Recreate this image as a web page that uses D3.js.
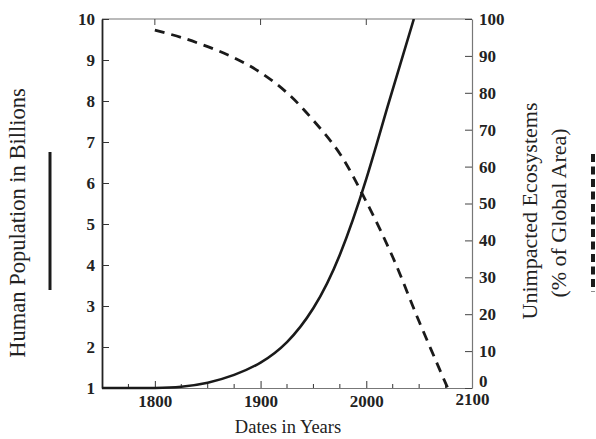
<!DOCTYPE html>
<html>
<head>
<meta charset="utf-8">
<script src="https://cdn.jsdelivr.net/npm/d3@7"></script>
<style>
  body { margin: 0; background: #fff; }
  svg { display: block; }
  .tick text { font-family: "Liberation Serif", serif; font-weight: bold; font-size: 17px; fill: #222; }
  .title { font-family: "Liberation Serif", serif; fill: #222; }
</style>
</head>
<body>
<svg id="chart"></svg>
<script>
// population (billions) by year
const popYears = [1750, 1800, 1825, 1850, 1875, 1900, 1925, 1950, 1975, 2000, 2020, 2045];
const population = [1.0, 1.0, 1.03, 1.13, 1.32, 1.62, 2.12, 2.95, 4.25, 6.1, 7.85, 10.0];

// unimpacted ecosystems (% of global area) by year
const ecoYears = [1800, 1825, 1850, 1875, 1900, 1925, 1950, 1975, 2000, 2025, 2050, 2077];
const ecosystems = [97, 95, 92.5, 89.5, 85.5, 80, 72.5, 63.5, 50.5, 35.5, 18, 0];

const xMajor = [1800, 1900, 2000, 2100];
const xMinor = [1775, 1825, 1850, 1875, 1925, 1950, 1975, 2025, 2050, 2075];
const popTicks = [1, 2, 3, 4, 5, 6, 7, 8, 9, 10];
const ecoTicks = [0, 10, 20, 30, 40, 50, 60, 70, 80, 90, 100];

const width = 596, height = 439;
const margin = { top: 19, right: 124, bottom: 51, left: 102 };

const svg = d3.select("#chart").attr("width", width).attr("height", height);

const x = d3.scaleLinear().domain([1750, 2100]).range([margin.left, width - margin.right]);
const yPop = d3.scaleLinear().domain([1, 10]).range([height - margin.bottom, margin.top]);
const yEco = d3.scaleLinear().domain([0, 100]).range([height - margin.bottom, margin.top]);

const x0 = margin.left, x1 = width - margin.right;
const y0 = height - margin.bottom, y1 = margin.top;

// clip to the plot, leaving room for the thick line lying on the bottom axis
svg.append("defs").append("clipPath").attr("id", "plot")
    .append("rect").attr("x", x0).attr("y", y1).attr("width", x1 - x0).attr("height", y0 - y1 + 2);

// top frame line with a few ticks
svg.append("line").attr("x1", x0).attr("x2", x1).attr("y1", y1).attr("y2", y1)
    .attr("stroke", "#777").attr("stroke-width", 1.2);
svg.append("g").selectAll("line").data([1800, 1900, 2000]).join("line")
    .attr("x1", d => x(d)).attr("x2", d => x(d))
    .attr("y1", y1).attr("y2", y1 + 6)
    .attr("stroke", "#444").attr("stroke-width", 1);

// bottom axis
const gx = svg.append("g").attr("transform", `translate(0,${y0})`)
    .call(d3.axisBottom(x).tickValues(xMajor).tickFormat(d3.format("d")).tickSizeInner(-7).tickSizeOuter(0).tickPadding(7));
gx.select(".domain").attr("stroke", "#777").attr("stroke-width", 1.2);
gx.selectAll(".tick line").attr("stroke", "#333");
gx.selectAll(".tick text").filter(d => d === 2100).attr("dy", "0.6em");
svg.append("g").selectAll("line").data(xMinor).join("line")
    .attr("x1", d => x(d)).attr("x2", d => x(d))
    .attr("y1", y0).attr("y2", y0 - 4)
    .attr("stroke", "#333").attr("stroke-width", 1);

// left axis
const gl = svg.append("g").attr("transform", `translate(${x0},0)`)
    .call(d3.axisLeft(yPop).tickValues(popTicks).tickSizeInner(-7).tickSizeOuter(0).tickPadding(7));
gl.select(".domain").attr("stroke", "#222").attr("stroke-width", 1.8);
gl.selectAll(".tick line").attr("stroke", "#333");

// right axis
const gr = svg.append("g").attr("transform", `translate(${x1},0)`)
    .call(d3.axisRight(yEco).tickValues(ecoTicks).tickSizeInner(-7).tickSizeOuter(0).tickPadding(7));
gr.select(".domain").attr("stroke", "#777").attr("stroke-width", 1.2);
gr.selectAll(".tick line").attr("stroke", "#444");
gr.selectAll(".tick text").filter(d => d === 0).attr("dy", "-0.08em");

// series
const popLine = d3.line().x((d, i) => x(popYears[i])).y(d => yPop(d)).curve(d3.curveNatural);
const ecoLine = d3.line().x((d, i) => x(ecoYears[i])).y(d => yEco(d)).curve(d3.curveCatmullRom.alpha(0.5));

svg.append("path").datum(population)
    .attr("clip-path", "url(#plot)")
    .attr("d", popLine)
    .attr("fill", "none").attr("stroke", "#1a1a1a").attr("stroke-width", 2.6);

svg.append("path").datum(ecosystems)
    .attr("d", ecoLine)
    .attr("fill", "none").attr("stroke", "#1a1a1a").attr("stroke-width", 2.8)
    .attr("stroke-dasharray", "10,7");

// titles
svg.append("text").attr("class", "title").attr("font-size", 22.5)
    .attr("transform", `translate(25,223) rotate(-90)`)
    .attr("text-anchor", "middle").text("Human Population in Billions");

svg.append("text").attr("class", "title").attr("font-size", 22)
    .attr("transform", `translate(537,211) rotate(-90)`)
    .attr("text-anchor", "middle").text("Unimpacted Ecosystems");
svg.append("text").attr("class", "title").attr("font-size", 22)
    .attr("transform", `translate(566,213) rotate(-90)`)
    .attr("text-anchor", "middle").text("(% of Global Area)");

svg.append("text").attr("class", "title").attr("font-size", 18.5)
    .attr("x", 288).attr("y", 433)
    .attr("text-anchor", "middle").text("Dates in Years");

// line-style keys beside the axis titles
svg.append("line").attr("x1", 50).attr("x2", 50).attr("y1", 152).attr("y2", 290)
    .attr("stroke", "#1a1a1a").attr("stroke-width", 3);
svg.append("line").attr("x1", 593).attr("x2", 593).attr("y1", 154).attr("y2", 292)
    .attr("stroke", "#1a1a1a").attr("stroke-width", 4)
    .attr("stroke-dasharray", "8,4.5");
</script>
</body>
</html>
